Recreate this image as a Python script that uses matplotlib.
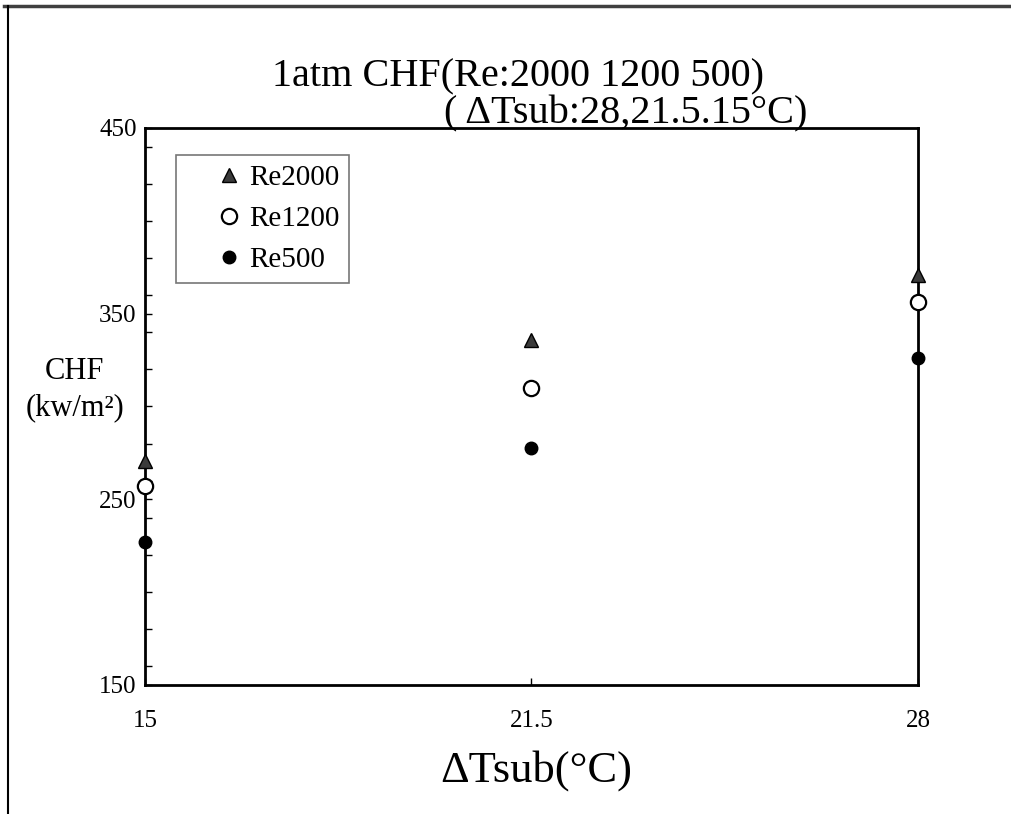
import matplotlib.pyplot as plt
from matplotlib.lines import Line2D
from matplotlib.ticker import MultipleLocator

# data
dtsub = [15, 21.5, 28]
re2000 = [270.5, 336, 371]
re1200 = [257, 310, 356]
re500 = [227, 277.5, 326]

plt.rcParams['font.family'] = ['Liberation Serif', 'DejaVu Serif']

fig = plt.figure(figsize=(10.11, 8.14), dpi=100)
ax = fig.add_axes([0.1434, 0.1585, 0.7646, 0.6843])

ax.plot(dtsub, re2000, linestyle='none', marker='^', markersize=10,
        markerfacecolor='#3a3a3a', markeredgecolor='black', label='Re2000',
        clip_on=False, zorder=5)
ax.plot(dtsub, re1200, linestyle='none', marker='o', markersize=11,
        markerfacecolor='white', markeredgecolor='black', markeredgewidth=1.6,
        label='Re1200', clip_on=False, zorder=5)
ax.plot(dtsub, re500, linestyle='none', marker='o', markersize=9,
        markerfacecolor='black', markeredgecolor='black', label='Re500',
        clip_on=False, zorder=5)

ax.set_xlim(15, 28)
ax.set_ylim(150, 450)
ax.set_xticks(dtsub)
ax.set_xticklabels(['15', '21.5', '28'])
ax.set_yticks([150, 250, 350, 450])
ax.yaxis.set_minor_locator(MultipleLocator(20))
ax.tick_params(axis='both', which='both', direction='in', labelsize=18,
               width=1, length=5)
ax.tick_params(axis='x', pad=18)
ax.tick_params(axis='y', pad=6)
for s in ax.spines.values():
    s.set_linewidth(2)

fig.text(0.53, 0.054, 'ΔTsub(°C)', fontsize=32, ha='center', va='center')
fig.text(0.074, 0.5215, 'CHF\n(kw/m²)', fontsize=22, ha='center', va='center',
         linespacing=1.35)

# two-line title, second line offset to the right
fig.text(0.512, 0.894, '1atm CHF(Re:2000 1200 500)', fontsize=29,
         ha='center', va='baseline')
fig.text(0.619, 0.849, '( ΔTsub:28,21.5.15°C)', fontsize=29,
         ha='center', va='baseline')

leg = ax.legend(loc='upper left', bbox_to_anchor=(0.0401, 0.9515), fontsize=21,
                frameon=True, fancybox=False, edgecolor='#555555',
                handletextpad=-0.8, labelspacing=0.5, borderpad=0.33,
                handlelength=2.97, borderaxespad=0)
leg.get_frame().set_linewidth(1.2)

# outer frame lines
fig.add_artist(Line2D([0.004, 1.0], [0.9925, 0.9925], color='#404040', lw=2.5,
                      transform=fig.transFigure))
fig.add_artist(Line2D([0.008, 0.008], [0.9925, 0.0], color='black', lw=1.5,
                      transform=fig.transFigure))

fig.savefig('out.png', dpi=100)
